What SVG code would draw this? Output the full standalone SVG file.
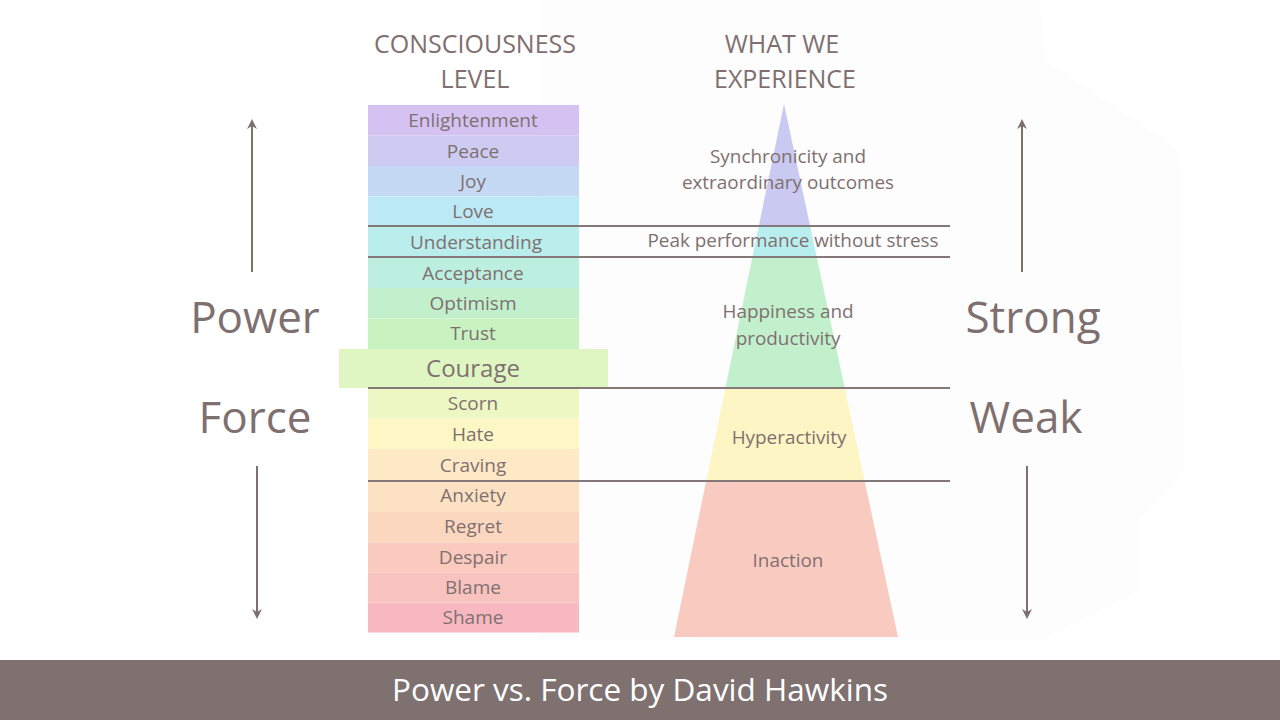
<svg xmlns="http://www.w3.org/2000/svg" width="1280" height="720" viewBox="0 0 1280 720">
  <defs>
    <style>
      text { font-family: "Open Sans", "Noto Sans", "Liberation Sans", sans-serif; fill: #7f7070; text-anchor: middle; }
      .hdr { font-size: 25px; }
      .lvl { font-size: 19px; }
      .exp { font-size: 18.9px; }
      .big { font-size: 44px; }
      .sep { stroke: #857878; stroke-width: 2; fill: none; }
      .arr { stroke: #7f7070; stroke-width: 2; fill: none; marker-end: url(#ah); }
    </style>
    <marker id="ah" viewBox="0 0 10 10" refX="8" refY="5" markerWidth="5" markerHeight="5" orient="auto" markerUnits="strokeWidth">
      <path d="M0,0 L10,5 L0,10 L3,5 Z" fill="#7f7070"/>
    </marker>
    <clipPath id="pyr">
      <polygon points="784,104 898,637 674,637"/>
    </clipPath>
  </defs>
  <rect width="1280" height="720" fill="#ffffff"/>
  <polygon points="540,0 1040,0 1045,60 1180,150 1185,470 1140,520 1140,590 1040,640 540,640" fill="#fdfdfd"/>

  <g id="headers">
    <text class="hdr" x="475" y="53">CONSCIOUSNESS</text>
    <text class="hdr" x="475" y="88">LEVEL</text>
    <text class="hdr" x="782" y="53">WHAT WE</text>
    <text class="hdr" x="785" y="88">EXPERIENCE</text>
  </g>

  <g id="ladder">
    <g id="lvl-enlightenment"><rect x="368" y="105" width="211" height="30.5" fill="#d5c2f3"/><text class="lvl" x="473" y="127">Enlightenment</text></g>
    <g id="lvl-peace"><rect x="368" y="135.5" width="211" height="30.5" fill="#cdcbf1"/><text class="lvl" x="473" y="157.5">Peace</text></g>
    <g id="lvl-joy"><rect x="368" y="166" width="211" height="30.5" fill="#c6d9f4"/><text class="lvl" x="473" y="188">Joy</text></g>
    <g id="lvl-love"><rect x="368" y="196.5" width="211" height="30.5" fill="#bce9f6"/><text class="lvl" x="473" y="218">Love</text></g>
    <g id="lvl-understanding"><rect x="368" y="227" width="211" height="30.5" fill="#b9eeed"/><text class="lvl" x="476" y="249">Understanding</text></g>
    <g id="lvl-acceptance"><rect x="368" y="257.5" width="211" height="30.5" fill="#bcefe0"/><text class="lvl" x="473" y="279.5">Acceptance</text></g>
    <g id="lvl-optimism"><rect x="368" y="288" width="211" height="30.5" fill="#c2f0cd"/><text class="lvl" x="473" y="309.5">Optimism</text></g>
    <g id="lvl-trust"><rect x="368" y="318.5" width="211" height="30.5" fill="#c8f3c1"/><text class="lvl" x="473" y="340">Trust</text></g>
    <g id="lvl-courage"><rect x="339" y="349" width="269" height="39" fill="#dff6c2"/><text x="473" y="377" style="font-size:24px">Courage</text></g>
    <g id="lvl-scorn"><rect x="368" y="388" width="211" height="30.5" fill="#edf7c3"/><text class="lvl" x="473" y="410">Scorn</text></g>
    <g id="lvl-hate"><rect x="368" y="418.5" width="211" height="30.5" fill="#fdf6c5"/><text class="lvl" x="473" y="441">Hate</text></g>
    <g id="lvl-craving"><rect x="368" y="449" width="211" height="32.5" fill="#fde9c6"/><text class="lvl" x="473" y="472">Craving</text></g>
    <g id="lvl-anxiety"><rect x="368" y="481.5" width="211" height="30.5" fill="#fce2c3"/><text class="lvl" x="473" y="502">Anxiety</text></g>
    <g id="lvl-regret"><rect x="368" y="512" width="211" height="30.5" fill="#fbd7c0"/><text class="lvl" x="473" y="533">Regret</text></g>
    <g id="lvl-despair"><rect x="368" y="542.5" width="211" height="30" fill="#f9cabd"/><text class="lvl" x="473" y="564">Despair</text></g>
    <g id="lvl-blame"><rect x="368" y="572.5" width="211" height="30" fill="#f8c3bf"/><text class="lvl" x="473" y="594">Blame</text></g>
    <g id="lvl-shame"><rect x="368" y="602.5" width="211" height="30" fill="#f7b8c1"/><text class="lvl" x="473" y="624">Shame</text></g>
  </g>

  <g id="pyramid">
    <g clip-path="url(#pyr)">
      <rect x="670" y="100" width="240" height="126" fill="#c9c9f1"/>
      <rect x="670" y="226" width="240" height="31" fill="#b9eeee"/>
      <rect x="670" y="257" width="240" height="131" fill="#c2f0cc"/>
      <rect x="670" y="388" width="240" height="93" fill="#fdf6c4"/>
      <rect x="670" y="481" width="240" height="160" fill="#f9cbc0"/>
    </g>
  </g>

  <g id="connectors">
    <line class="sep" x1="368" y1="226" x2="950" y2="226"/>
    <line class="sep" x1="368" y1="257" x2="950" y2="257"/>
    <line class="sep" x1="368" y1="388" x2="950" y2="388"/>
    <line class="sep" x1="368" y1="481" x2="950" y2="481"/>
    <line class="arr" x1="252" y1="272" x2="252" y2="121"/>
    <line class="arr" x1="257" y1="466" x2="257" y2="617"/>
    <line class="arr" x1="1022" y1="272" x2="1022" y2="121"/>
    <line class="arr" x1="1027" y1="466" x2="1027" y2="617"/>
  </g>

  <g id="experiences">
    <text class="exp" x="788" y="163">Synchronicity and</text>
    <text class="exp" x="788" y="189">extraordinary outcomes</text>
    <text class="exp" x="793" y="247">Peak performance without stress</text>
    <text class="exp" x="788" y="318">Happiness and</text>
    <text class="exp" x="788" y="345">productivity</text>
    <text class="exp" x="789" y="444">Hyperactivity</text>
    <text class="exp" x="788" y="567">Inaction</text>
  </g>

  <g id="sides">
    <text class="big" x="255" y="333">Power</text>
    <text class="big" x="255" y="433">Force</text>
    <text class="big" x="1033" y="333">Strong</text>
    <text class="big" x="1026" y="433">Weak</text>
  </g>

  <g id="banner">
    <rect x="0" y="660" width="1280" height="60" fill="#807171"/>
    <text x="640" y="701" style="font-size:31.5px;fill:#ffffff">Power vs. Force by David Hawkins</text>
  </g>
</svg>
